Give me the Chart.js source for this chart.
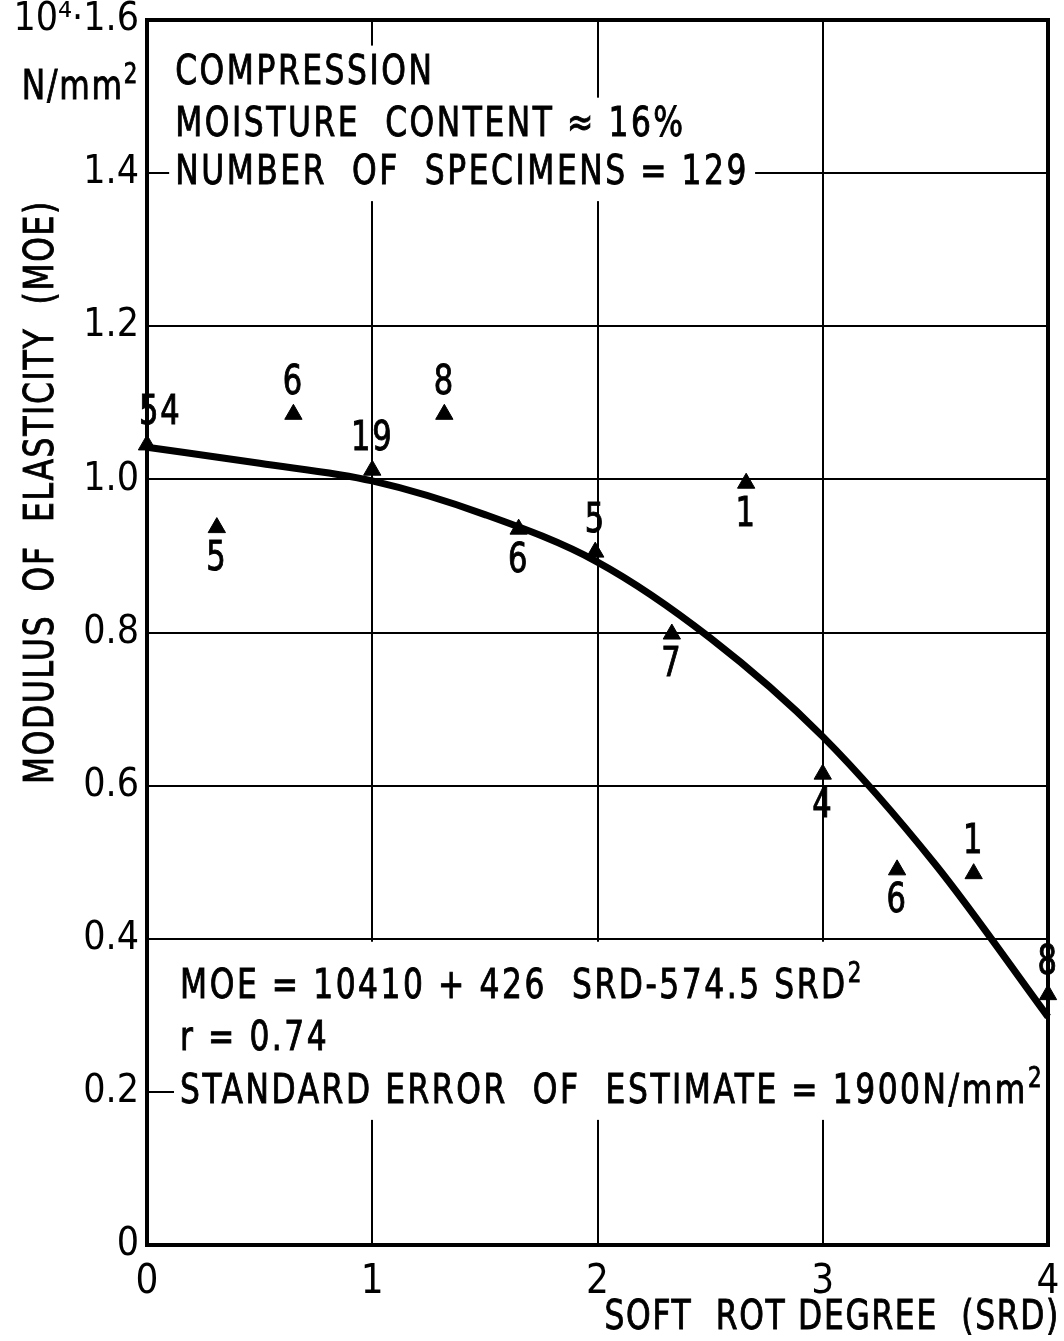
<!DOCTYPE html>
<html lang="en">
<head>
<meta charset="UTF-8">
<title>MOE vs soft rot degree</title>
<style>
  body { margin: 0; background: #fff; }
  .wrap { width: 1064px; height: 1341px; position: relative; }
</style>
<script src="https://cdn.jsdelivr.net/npm/chart.js"></script>
</head>
<body>
<div class="wrap"><canvas id="moeChart"></canvas></div>
<script>
// mean MOE per soft rot class (10^4 N/mm2)
const srdValues = [0, 0.31, 0.65, 1.0, 1.32, 1.65, 1.99, 2.33, 2.66, 3.0, 3.33, 3.67, 4.0];
const moeValues = [1.045, 0.937, 1.085, 1.012, 1.085, 0.935, 0.905, 0.798, 0.995, 0.615, 0.49, 0.485, 0.327];
// number of specimens in each class
const specimenCounts = ['54', '5', '6', '19', '8', '6', '5', '7', '1', '4', '6', '1', '8'];
const countBelow = [false, true, false, false, false, true, false, true, true, true, true, false, false];

// regression curve
const curveSrd = [0, 0.5, 1, 1.5, 2, 2.5, 3, 3.5, 4];
const curveMoe = [1.042, 1.021, 0.998, 0.954, 0.892, 0.793, 0.664, 0.497, 0.298];

const xTicks = [0, 1, 2, 3, 4];
const yTicks = [0, 0.2, 0.4, 0.6, 0.8, 1.0, 1.2, 1.4, 1.6];

const FONT = "'DejaVu Sans Condensed', 'DejaVu Sans', sans-serif";
const INK = '#000';
const SQUEEZE = 0.85;   // the lettering on the original is narrower than any installed font

// draws text squeezed horizontally; "^2" gives a raised digit
function squeezedText(ctx, txt, px, py, align, size) {
    const parts = txt.split(/\^(\d)/);
    const supSize = Math.round(size * 0.68);
    const widths = parts.map((s, i) => {
        ctx.font = (i % 2 ? supSize : size) + 'px ' + FONT;
        return ctx.measureText(s).width;
    });
    const total = widths.reduce((a, b) => a + b, 0) * SQUEEZE;
    const left = align === 'right' ? px - total : align === 'center' ? px - total / 2 : px;
    ctx.save();
    ctx.translate(left, py);
    ctx.scale(SQUEEZE, 1);
    ctx.textAlign = 'left';
    ctx.textBaseline = 'middle';
    ctx.strokeStyle = ctx.fillStyle;
    ctx.lineWidth = 0.9;
    let cx = 0;
    parts.forEach((s, i) => {
        ctx.font = (i % 2 ? supSize : size) + 'px ' + FONT;
        const ty = i % 2 ? -size * 0.3 : 0;
        ctx.fillText(s, cx, ty);
        ctx.strokeText(s, cx, ty);
        cx += widths[i];
    });
    ctx.restore();
    return { left, width: total };
}

// text blocks, white boxes, frame and count labels
const annotations = {
    id: 'annotations',
    beforeDatasetsDraw(chart) {
        const { ctx, chartArea: a, scales: { x, y } } = chart;
        ctx.save();
        ctx.letterSpacing = '3px';

        // lower block has one box hiding the grid behind it
        ctx.fillStyle = '#fff';
        ctx.fillRect(a.left + 27, y.getPixelForValue(0.4) + 3, a.right - a.left - 30, 174);

        const lines = [
            ['COMPRESSION', 0.125, 1.53],
            ['MOISTURE  CONTENT \u2248 16%', 0.125, 1.462],
            ['NUMBER  OF  SPECIMENS = 129', 0.125, 1.4],
            ['MOE = 10410 + 426  SRD-574.5 SRD^2', 0.147, 0.337],
            ['r = 0.74', 0.147, 0.268],
            ['STANDARD ERROR  OF  ESTIMATE = 1900N/mm^2', 0.147, 0.2]
        ];
        lines.forEach(([txt, xv, yv]) => {
            const px = x.getPixelForValue(xv);
            const py = y.getPixelForValue(yv);
            ctx.font = '41px ' + FONT;
            const w = ctx.measureText(txt.replace('^', '')).width * SQUEEZE;
            ctx.fillStyle = '#fff';
            ctx.fillRect(px - 6, py - 28, w + 12, 56);
            ctx.fillStyle = INK;
            squeezedText(ctx, txt, px, py, 'left', 41);
        });

        // frame
        ctx.strokeStyle = INK;
        ctx.lineWidth = 4;
        ctx.strokeRect(a.left, a.top, a.right - a.left, a.bottom - a.top);

        // unit and axis titles
        ctx.fillStyle = INK;
        ctx.letterSpacing = '2px';
        squeezedText(ctx, 'N/mm^2', a.left - 8, 88, 'right', 41);
        squeezedText(ctx, 'SOFT  ROT DEGREE  (SRD)', 1060, 1318, 'right', 41);
        ctx.translate(42, 492);
        ctx.rotate(-Math.PI / 2);
        squeezedText(ctx, 'MODULUS  OF  ELASTICITY  (MOE)', 0, 0, 'center', 41);
        ctx.restore();
    },
    afterDatasetsDraw(chart) {
        const { ctx, chartArea: a } = chart;
        const pts = chart.getDatasetMeta(1).data;
        ctx.save();
        ctx.fillStyle = INK;
        ctx.letterSpacing = '2px';
        pts.forEach((p, i) => {
            const dy = countBelow[i] ? 32 : -31;
            ctx.font = '40px ' + FONT;
            const w = ctx.measureText(specimenCounts[i]).width * SQUEEZE;
            const cx = Math.max(p.x, a.left + w / 2 - 8);
            squeezedText(ctx, specimenCounts[i], cx, p.y + dy, 'center', 40);
        });
        ctx.restore();
    }
};

const ctx = document.getElementById('moeChart').getContext('2d');
new Chart(ctx, {
    type: 'scatter',
    data: {
        datasets: [
            {
                label: 'fit',
                type: 'line',
                data: curveSrd.map((v, i) => ({ x: v, y: curveMoe[i] })),
                borderColor: INK,
                borderWidth: 7,
                pointRadius: 0,
                cubicInterpolationMode: 'monotone',
                fill: false,
                clip: false
            },
            {
                label: 'classes',
                data: srdValues.map((v, i) => ({ x: v, y: moeValues[i] })),
                pointStyle: 'triangle',
                pointRadius: 10,
                backgroundColor: INK,
                borderColor: INK,
                borderWidth: 1,
                clip: false
            }
        ]
    },
    options: {
        responsive: true,
        maintainAspectRatio: false,
        animation: false,
        layout: { padding: { top: 20, right: 16, left: 0, bottom: 0 } },
        plugins: { legend: { display: false }, tooltip: { enabled: false } },
        scales: {
            x: {
                type: 'linear',
                min: 0,
                max: 4,
                afterBuildTicks: s => { s.ticks = xTicks.map(v => ({ value: v })); },
                afterFit: s => {
                    s.height = 96;
                    s.paddingLeft = 0;
                    s.paddingRight = 0;
                },
                grid: { color: INK, lineWidth: 2, drawTicks: false },
                border: { display: false },
                ticks: { color: INK, font: { family: FONT, size: 40 }, padding: 14 }
            },
            y: {
                min: 0,
                max: 1.6,
                afterBuildTicks: s => { s.ticks = yTicks.map(v => ({ value: v })); },
                afterFit: s => {
                    s.width = 147;
                    s.paddingTop = 0;
                    s.paddingBottom = 0;
                },
                grid: { color: INK, lineWidth: 2, drawTicks: false },
                border: { display: false },
                ticks: {
                    color: INK,
                    font: { family: FONT, size: 39 },
                    padding: 8,
                    callback: v => v === 1.6 ? '10\u2074\u00b71.6' : (v === 0 ? '0' : v.toFixed(1))
                }
            }
        }
    },
    plugins: [annotations]
});
</script>
</body>
</html>
